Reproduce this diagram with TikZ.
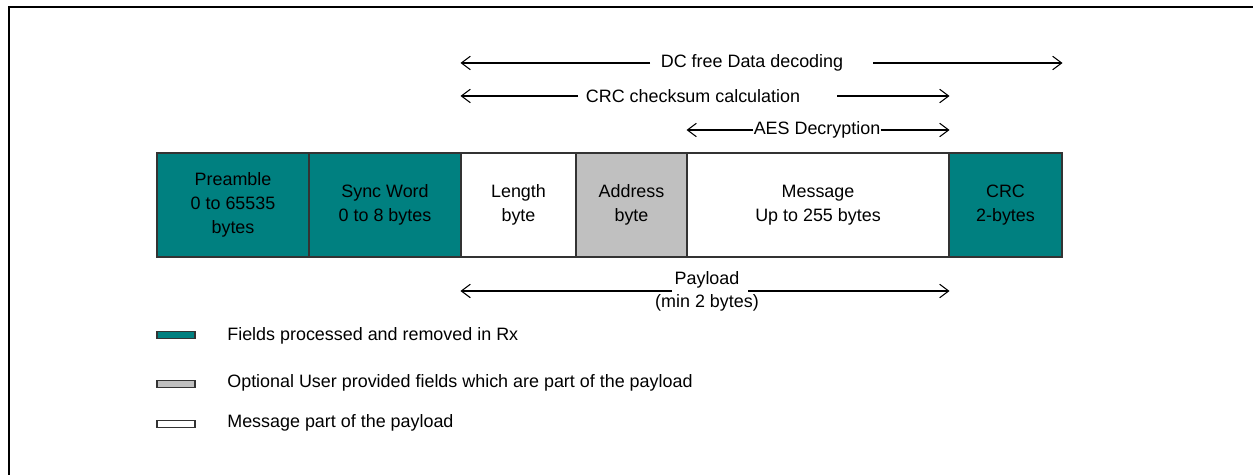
\documentclass[tikz,border=0pt]{standalone}
\usepackage{fontspec}
\setmainfont{Liberation Sans}
\usetikzlibrary{arrows.meta}
\definecolor{fieldteal}{RGB}{0,128,128}
\definecolor{fieldgray}{RGB}{192,192,192}

\begin{document}
\begin{tikzpicture}[x=0.02cm, y=-0.02cm]
	\tikzstyle{Field} = [rectangle, minimum height=2.08cm, inner sep=0pt, align=center, draw=black!80, line width=0.6pt, font=\fontsize{10.2}{13.6}\selectfont]
	\tikzstyle{Key} = [rectangle, minimum width=0.76cm, minimum height=0.15cm, inner sep=0pt, draw=black!80, line width=0.6pt]
	\tikzstyle{Label} = [inner sep=0pt, align=center, font=\fontsize{10.2}{13.2}\selectfont]
	\tikzstyle{arrow} = [line width=0.6pt, -{Straight Barb[length=0.18cm, width=0.27cm]}]
	
	\useasboundingbox (0,0) rectangle (1253,475);
	\draw [line width=0.04cm, black] (9,475) -- (9,7) -- (1253,7);
	
	% the packet fields
	\node (pre) [Field, fill=fieldteal, minimum width=3.04cm] at (233,205) {Preamble\\0 to 65535\\bytes};
	\node (sync) [Field, fill=fieldteal, minimum width=3.04cm] at (385,205) {Sync Word\\0 to 8 bytes};
	\node (len) [Field, fill=white, minimum width=2.30cm] at (518.5,205) {Length\\byte};
	\node (addr) [Field, fill=fieldgray, minimum width=2.22cm] at (631.5,205) {Address\\byte};
	\node (msg) [Field, fill=white, minimum width=5.24cm] at (818,205) {Message\\Up to 255 bytes};
	\node (crc) [Field, fill=fieldteal, minimum width=2.26cm] at (1005.5,205) {CRC\\2-bytes};
	
	% spans above and below
	\node (dc) [Label] at (752,63) {DC free Data decoding};
	\coordinate (dcA) at (650,63);
	\coordinate (dcB) at (873,63);
	\draw [arrow] (dcA) -- (len.west |- dcA);
	\draw [arrow] (dcB) -- (crc.east |- dcB);
	
	\node (chk) [Label] at (693,96) {CRC checksum calculation};
	\coordinate (chkA) at (578,96);
	\coordinate (chkB) at (837,96);
	\draw [arrow] (chkA) -- (len.west |- chkA);
	\draw [arrow] (chkB) -- (msg.east |- chkB);
	
	\node (aes) [Label] at (817,130) {AES Decryption};
	\draw [arrow] (aes.west) -- (msg.west |- aes.west);
	\draw [arrow] (aes.east) -- (msg.east |- aes.east);
	
	\node (pay) [Label] at (707,291) {Payload\\(min 2 bytes)};
	\coordinate (payA) at (672,291);
	\coordinate (payB) at (748,291);
	\draw [arrow] (payA) -- (len.west |- payA);
	\draw [arrow] (payB) -- (msg.east |- payB);
	
	% legend
	\node (k1) [Key, fill=fieldteal] at (176,335) {};
	\node (k2) [Key, fill=fieldgray] at (176,384) {};
	\node (k3) [Key, fill=white] at (176,424) {};
	\node (t1) [Label, anchor=west] at (227,336) {Fields processed and removed in Rx};
	\node (t2) [Label, anchor=west] at (227,383) {Optional User provided fields which are part of the payload};
	\node (t3) [Label, anchor=west] at (227,423) {Message part of the payload};
\end{tikzpicture}
\end{document}
